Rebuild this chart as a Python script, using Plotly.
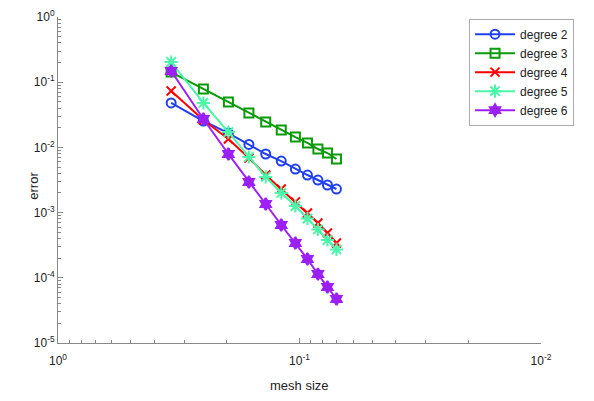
import plotly.graph_objects as go

mesh = [0.340, 0.250, 0.197, 0.162, 0.138, 0.119, 0.104, 0.0927, 0.0839, 0.0766, 0.0703]
deg2 = [0.048, 0.0254, 0.0166, 0.0111, 0.00792, 0.00618, 0.00466, 0.00377, 0.00316, 0.00265, 0.0023]
deg3 = [0.143, 0.0787, 0.0497, 0.0337, 0.0245, 0.0185, 0.0144, 0.0117, 0.00945, 0.0082, 0.00664]
deg4 = [0.0733, 0.0263, 0.01345, 0.00688, 0.00377, 0.0023, 0.00146, 0.000986, 0.000692, 0.000486, 0.000342]
deg5 = [0.204, 0.048, 0.0172, 0.00713, 0.00352, 0.0020, 0.00126, 0.000812, 0.000551, 0.00038, 0.000272]
deg6 = [0.1485, 0.0273, 0.00792, 0.00294, 0.001355, 0.000645, 0.000342, 0.000194, 0.000114, 7.22e-5, 4.73e-5]

x_tickvals = [1, 0.1, 0.01]
x_ticktext = ["10<sup>0</sup>", "10<sup>-1</sup>", "10<sup>-2</sup>"]
y_tickvals = [1, 0.1, 0.01, 0.001, 0.0001, 0.00001]
y_ticktext = ["10<sup>0</sup>", "10<sup>-1</sup>", "10<sup>-2</sup>",
              "10<sup>-3</sup>", "10<sup>-4</sup>", "10<sup>-5</sup>"]

series = [
    ("degree 2", deg2, "#2040F0", "circle-open", 9),
    ("degree 3", deg3, "#0A9A0A", "square-open", 9),
    ("degree 4", deg4, "#FF0000", "x-thin-open", 9),
    ("degree 5", deg5, "#4DF5AA", "asterisk-open", 11),
    ("degree 6", deg6, "#9B20F5", "hexagram", 9),
]

fig = go.Figure()
for name, ys, col, sym, sz in series:
    fig.add_trace(go.Scatter(
        x=mesh, y=ys, name=name, mode="lines+markers",
        line=dict(color=col, width=2),
        marker=dict(symbol=sym, size=sz, color=col, line=dict(color=col, width=2)),
    ))

axcol = "#888888"
fig.update_layout(
    width=594, height=401,
    margin=dict(l=58, r=53, t=17, b=58, autoexpand=False),
    paper_bgcolor="white", plot_bgcolor="white",
    font=dict(family="Liberation Sans, Arial, sans-serif", size=12, color="#222222"),
    showlegend=True,
    legend=dict(x=0.851, y=0.995, xanchor="left", yanchor="top",
                bordercolor="#AAAAAA", borderwidth=1, bgcolor="white",
                font=dict(size=12), tracegroupgap=0, itemwidth=40),
    xaxis=dict(type="log", range=[0, -2], showgrid=False, zeroline=False,
               automargin=False,
               showline=True, linecolor=axcol, linewidth=1, mirror=False,
               ticks="inside", ticklen=5, tickcolor=axcol, ticklabelstandoff=7,
               tickvals=x_tickvals, ticktext=x_ticktext, tickfont=dict(size=12),
               minor=dict(ticks="inside", ticklen=3, tickcolor=axcol, showgrid=False,
                          tickvals=[v * k for v in [1, 0.1] for k in [0.2, 0.3, 0.4, 0.5, 0.6, 0.7, 0.8, 0.9]])),
    yaxis=dict(type="log", range=[-5, 0], showgrid=False, zeroline=False,
               automargin=False,
               showline=True, linecolor=axcol, linewidth=1, mirror=False,
               ticks="inside", ticklen=5, tickcolor=axcol,
               tickvals=y_tickvals, ticktext=y_ticktext, tickfont=dict(size=12),
               minor=dict(ticks="inside", ticklen=3, tickcolor=axcol, showgrid=False,
                          tickvals=[v * k for v in [1, 0.1, 0.01, 0.001, 0.0001] for k in [0.2, 0.3, 0.4, 0.5, 0.6, 0.7, 0.8, 0.9]])),
    annotations=[
        dict(text="mesh size", xref="paper", yref="paper", x=0.5, y=-0.129,
             xanchor="center", yanchor="middle", showarrow=False, font=dict(size=13)),
        dict(text="error", xref="paper", yref="paper", x=-0.05, y=0.482,
             xanchor="center", yanchor="middle", showarrow=False, textangle=-90,
             font=dict(size=13)),
    ],
)
fig.write_html("out.html")
